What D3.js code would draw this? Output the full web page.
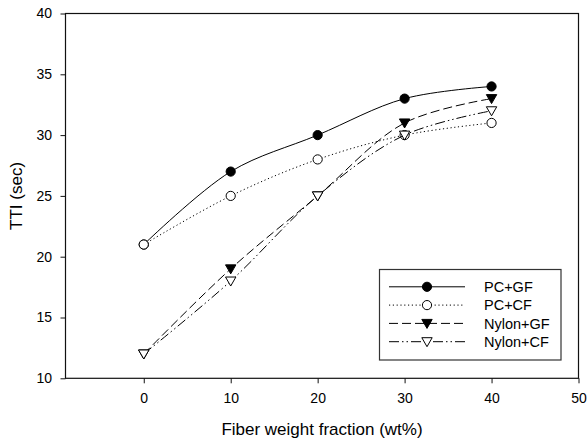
<!DOCTYPE html>
<html>
<head>
<meta charset="utf-8">
<script src="https://cdn.jsdelivr.net/npm/d3@7"></script>
<style>
  html, body { margin: 0; padding: 0; background: #fff; }
  svg { display: block; font-family: "Liberation Sans", Arial, sans-serif; }
</style>
</head>
<body>
<svg id="chart" width="587" height="442"></svg>
<script>
// Fiber content (wt%) and measured TTI (sec) for each composite
const fiberFractions = [0, 10, 20, 30, 40];
const pcGF    = [21, 27, 30, 33, 34];
const pcCF    = [21, 25, 28, 30, 31];
const nylonGF = [12, 19, 25, 31, 33];
const nylonCF = [12, 18, 25, 30, 32];

const seriesNames = ["PC+GF", "PC+CF", "Nylon+GF", "Nylon+CF"];
const xTicks = [0, 10, 20, 30, 40, 50];
const yTicks = [10, 15, 20, 25, 30, 35, 40];

const series = [
  { name: seriesNames[0], values: pcGF,    dash: null,                 marker: "circle",   fill: "#000" },
  { name: seriesNames[1], values: pcCF,    dash: "1.2,2.6",            marker: "circle",   fill: "#fff" },
  { name: seriesNames[2], values: nylonGF, dash: "9,4",                marker: "triangle", fill: "#000" },
  { name: seriesNames[3], values: nylonCF, dash: "10,3,1.5,3,1.5,3",   marker: "triangle", fill: "#fff" }
];

const svg = d3.select("#chart");
const plotL = 65.5, plotR = 578.5, plotT = 13.5, plotB = 378.3;

const x = d3.scaleLinear().domain([-9, 50]).range([plotL, plotR]);
const y = d3.scaleLinear().domain([10, 40]).range([plotB, plotT]);

// Frame
svg.append("rect")
  .attr("x", plotL).attr("y", plotT)
  .attr("width", plotR - plotL).attr("height", plotB - plotT)
  .attr("fill", "none").attr("stroke", "#111").attr("stroke-width", 1.2);

// Axes
const xAxis = svg.append("g")
  .attr("transform", `translate(0,${plotB})`)
  .call(d3.axisBottom(x).tickValues(xTicks).tickSize(5).tickSizeOuter(0).tickPadding(10));
const yAxis = svg.append("g")
  .attr("transform", `translate(${plotL},0)`)
  .call(d3.axisLeft(y).tickValues(yTicks).tickSize(5).tickSizeOuter(0).tickPadding(8.5));
[xAxis, yAxis].forEach(g => {
  g.select(".domain").remove();
  g.selectAll(".tick line").attr("stroke", "#111");
  g.selectAll(".tick text")
    .attr("fill", "#000")
    .style("font-size", "14px")
    .style("font-family", "'Liberation Sans', Arial, sans-serif");
});

// Axis titles
svg.append("text")
  .attr("x", (plotL + plotR) / 2).attr("y", 435)
  .attr("text-anchor", "middle")
  .style("font-size", "17px")
  .text("Fiber weight fraction (wt%)");
svg.append("text")
  .attr("transform", `translate(21.5,${(plotT + plotB) / 2}) rotate(-90)`)
  .attr("text-anchor", "middle")
  .style("font-size", "17px")
  .text("TTI (sec)");

const line = d3.line()
  .x((d, i) => x(fiberFractions[i]))
  .y(d => y(d))
  .curve(d3.curveCatmullRom.alpha(0.5));

const triPath = "M-5.2,-4 L5.2,-4 L0,5 Z";

function drawMarker(g, s, cx, cy) {
  if (s.marker === "circle") {
    g.append("circle")
      .attr("cx", cx).attr("cy", cy).attr("r", 4.6)
      .attr("fill", s.fill).attr("stroke", "#000").attr("stroke-width", 1);
  } else {
    g.append("path")
      .attr("d", triPath)
      .attr("transform", `translate(${cx},${cy})`)
      .attr("fill", s.fill).attr("stroke", "#000").attr("stroke-width", 1);
  }
}

// Lines and markers
series.forEach(s => {
  const g = svg.append("g");
  g.append("path")
    .datum(s.values)
    .attr("d", line)
    .attr("fill", "none")
    .attr("stroke", "#000")
    .attr("stroke-width", 1)
    .attr("stroke-dasharray", s.dash);
  s.values.forEach((v, i) => drawMarker(g, s, x(fiberFractions[i]), y(v)));
});

// Legend
const legend = svg.append("g");
legend.append("rect")
  .attr("x", 379.5).attr("y", 269.5)
  .attr("width", 181.5).attr("height", 90.5)
  .attr("fill", "#fff").attr("stroke", "#333").attr("stroke-width", 1.2);
series.forEach((s, i) => {
  const ly = 286.8 + i * 18.3;
  legend.append("line")
    .attr("x1", 389).attr("x2", 465)
    .attr("y1", ly).attr("y2", ly)
    .attr("stroke", "#000").attr("stroke-width", 1)
    .attr("stroke-dasharray", s.dash);
  drawMarker(legend, s, 427, ly);
  legend.append("text")
    .attr("x", 484).attr("y", ly)
    .attr("dy", "0.36em")
    .style("font-size", "14.5px")
    .text(s.name);
});
</script>
</body>
</html>
